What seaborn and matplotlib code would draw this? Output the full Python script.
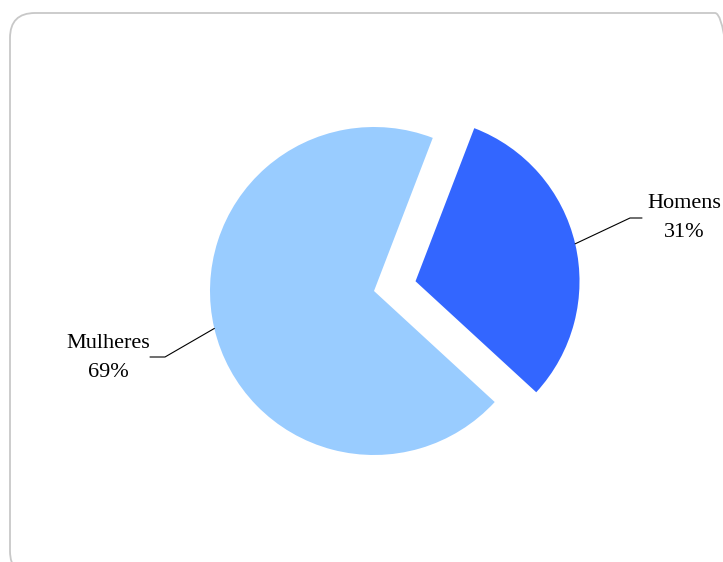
import numpy as np
import matplotlib
matplotlib.use("Agg")
import matplotlib.pyplot as plt
import seaborn as sns
from matplotlib.patches import FancyBboxPatch

categories = ["Homens", "Mulheres"]
values = [31, 69]
pct_labels = ["31%", "69%"]
colors = ["#3366FF", "#99CCFF"]

sns.set_theme(style="white")
plt.rcParams['font.family'] = ['Liberation Serif', 'DejaVu Serif']

W, H = 723, 562
fig = plt.figure(figsize=(W / 100, H / 100), dpi=100)
fig.patch.set_facecolor("white")

# rounded frame (figure pixel coords, origin bottom-left)
pad = 25
x0, x1 = 10, 740
y0, y1 = -14, 549
frame = FancyBboxPatch((x0 + pad, y0 + pad), (x1 - x0) - 2 * pad, (y1 - y0) - 2 * pad,
                       boxstyle=f"round,pad={pad}", transform=None,
                       facecolor="none", edgecolor="#C8C8C8", linewidth=1.3,
                       zorder=-1)
fig.patches.append(frame)

ax = fig.add_axes([0, 0, 1, 1])
ax.set_facecolor("none")
R = 164.0
cx, cy = 374.0, 291.0

explode = [0.26, 0.0]
start = 69
wedges, _ = ax.pie(values, colors=colors, explode=explode, startangle=start,
                   counterclock=False, radius=1.0,
                   wedgeprops=dict(linewidth=0))

ax.set_xlim(-cx / R, (W - cx) / R)
ax.set_ylim(-(H - cy) / R, cy / R)
ax.set_aspect("equal")
ax.axis("off")

# labels with leader lines
total = sum(values)
ang = start
label_info = [
    dict(elbow=(630, 218), end=(642, 218), text=(684, 218)),
    dict(elbow=(165, 357), end=(150, 357), text=(108, 358)),
]
for i, (cat, v) in enumerate(zip(categories, values)):
    span = 360 * v / total
    mid = np.deg2rad(ang - span / 2)
    ang -= span
    ox = explode[i] * np.cos(mid)
    oy = explode[i] * np.sin(mid)
    px, py = ox + np.cos(mid), oy + np.sin(mid)
    info = label_info[i]
    ex, ey = (info["elbow"][0] - cx) / R, (cy - info["elbow"][1]) / R
    tx, ty = (info["end"][0] - cx) / R, (cy - info["end"][1]) / R
    ax.plot([px, ex, tx], [py, ey, ty], color="black", linewidth=0.8)
    lx, ly = (info["text"][0] - cx) / R, (cy - info["text"][1]) / R
    ax.text(lx, ly, f"{cat}\n{pct_labels[i]}", ha="center", va="center",
            fontsize=16, color="black", linespacing=1.65)

fig.savefig("out.png", dpi=100)
